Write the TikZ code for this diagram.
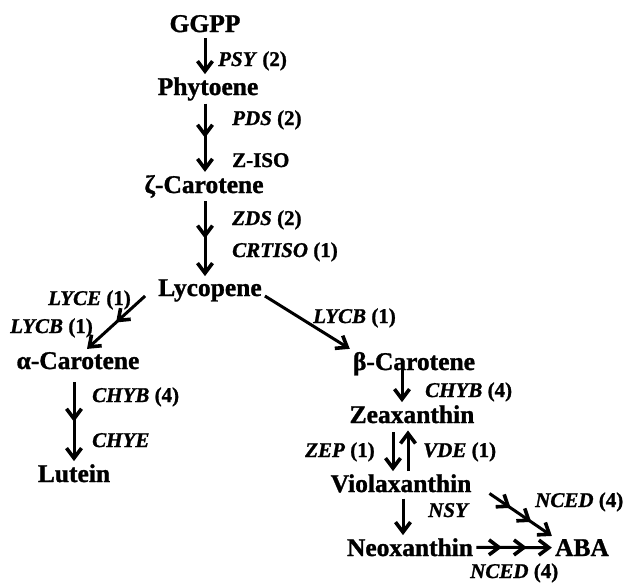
\documentclass[tikz,border=0pt]{standalone}
\usepackage{fontspec}
\setmainfont{Liberation Serif}[BoldFeatures={FakeBold=1.2},BoldItalicFeatures={FakeBold=1.2}]
\usetikzlibrary{arrows.meta,calc,decorations.markings}
\tikzset{
  barb/.tip={Straight Barb[length=10pt,width=15pt,line width=3.6pt]},
  cpd/.style={font=\bfseries\fontsize{25.5}{28}\selectfont,inner sep=3pt,anchor=base},
  enz/.style={font=\bfseries\fontsize{21}{24}\selectfont,inner sep=0pt,anchor=base west},
  ar/.style={-barb,line width=3pt},
  ar2/.style={ar,postaction={decorate},decoration={markings,
    mark=at position .5 with {\arrow{barb}}}},
  ar3/.style={ar,postaction={decorate},decoration={markings,
    mark=at position .34 with {\arrow{barb}},
    mark=at position .67 with {\arrow{barb}}}},
}
\begin{document}
\begin{tikzpicture}[x=1pt,y=-1pt]
\useasboundingbox (0,0) rectangle (627,582);
% compounds
\node[cpd] (ggpp) at (205,32) {GGPP};
\node[cpd] (phyt) at (208,95) {Phytoene};
\node[cpd] (zcar) at (204,193) {ζ-Carotene};
\node[cpd] (lyco) at (210,296) {Lycopene};
\node[cpd] (acar) at (78,369) {α-Carotene};
\node[cpd] (lute) at (74,482) {Lutein};
\node[cpd] (bcar) at (414,370) {β-Carotene};
\node[cpd] (zeax) at (412,423) {Zeaxanthin};
\node[cpd] (viol) at (401,492) {Violaxanthin};
\node[cpd] (neox) at (410,556) {Neoxanthin};
\node[cpd] (aba) at (582,556) {ABA};
% enzymes
\node[enz] (psy) at (218,66) {\textit{PSY} (2)};
\node[enz] (pds) at (232,125) {\textit{PDS} (2)};
\node[enz] (ziso) at (232,167) {Z-ISO};
\node[enz] (zds) at (232,225) {\textit{ZDS} (2)};
\node[enz] (crtiso) at (232,257) {\textit{CRTISO} (1)};
\node[enz] (lyce) at (48,305) {\textit{LYCE} (1)};
\node[enz] (lycba) at (10,333) {\textit{LYCB} (1)};
\node[enz] (chyba) at (92,402) {\textit{CHYB} (4)};
\node[enz] (chye) at (92,447) {\textit{CHYE}};
\node[enz] (lycbb) at (313,323) {\textit{LYCB} (1)};
\node[enz] (chybb) at (425,397) {\textit{CHYB} (4)};
\node[enz] (zep) at (305,457) {\textit{ZEP} (1)};
\node[enz] (vde) at (423,457) {\textit{VDE} (1)};
\node[enz] (nsy) at (428,517) {\textit{NSY}};
\node[enz] (nceda) at (535,507) {\textit{NCED} (4)};
\node[enz] (ncedb) at (470,578) {\textit{NCED} (4)};
% main chain
\draw[ar] ($(ggpp.south)+(0,3)$) -- (ggpp.south |- phyt.north);
\draw[ar2] (phyt.south -| ggpp) -- (zcar.north -| ggpp);
\draw[ar2] (zcar.south -| ggpp) -- (lyco.north -| ggpp);
% alpha branch
\draw[ar2] ($(lyco.base west)+(-10,0)$) -- ($(acar.north)+(9,0)$);
\draw[ar2] ($(acar.south -| lute)+(0,10)$) -- (lute.north);
% beta branch
\draw[ar] (lyco.base east) -- (bcar.north west);
\draw[ar] ($(bcar.base)+(-12,0)$) coordinate (b1) -- (b1 |- zeax.north);
\draw[ar] ($(zeax.south)+(-19,6)$) -- ($(viol.north)+(-8,0)$);
\draw[ar] ($(viol.north)+(7,0)$) -- ($(zeax.south)+(-4,4)$);
\draw[ar] ($(viol.south)+(2,3)$) -- ($(neox.north)+(-7,0)$);
% to ABA
\draw[ar3] (neox.east) -- (aba.west);
\draw[ar3] ($(viol.east)!18pt!(aba.north west)$) -- (aba.north west);
\end{tikzpicture}
\end{document}
